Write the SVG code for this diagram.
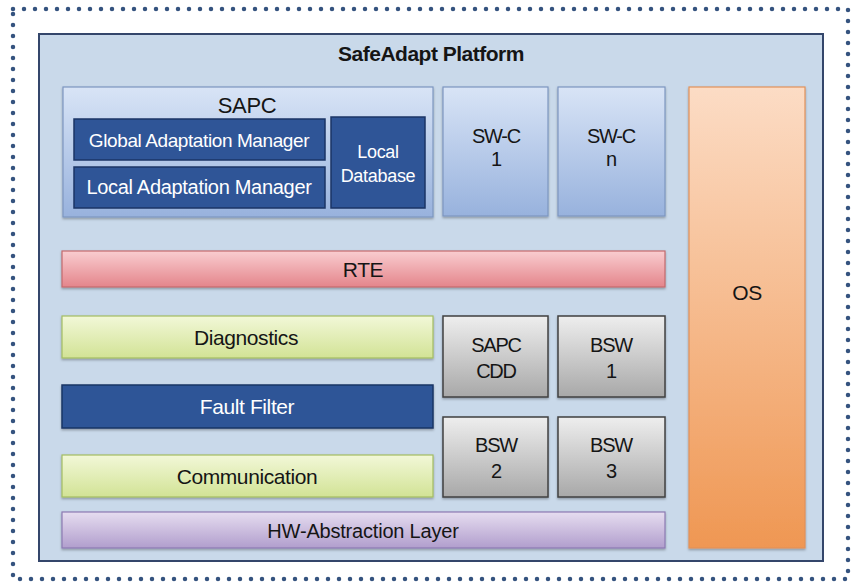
<svg xmlns="http://www.w3.org/2000/svg" width="852" height="583" viewBox="0 0 852 583">
<defs>
<linearGradient id="gBlue" x1="0" y1="0" x2="0" y2="1"><stop offset="0" stop-color="#d8e4f6"/><stop offset="1" stop-color="#98b2dd"/></linearGradient>
<linearGradient id="gRed" x1="0" y1="0" x2="0" y2="1"><stop offset="0" stop-color="#f9cdd0"/><stop offset="1" stop-color="#e4858b"/></linearGradient>
<linearGradient id="gGreen" x1="0" y1="0" x2="0" y2="1"><stop offset="0" stop-color="#f2f8d8"/><stop offset="1" stop-color="#d2e395"/></linearGradient>
<linearGradient id="gGray" x1="0" y1="0" x2="0" y2="1"><stop offset="0" stop-color="#eeeeee"/><stop offset="1" stop-color="#a8a8a8"/></linearGradient>
<linearGradient id="gPurple" x1="0" y1="0" x2="0" y2="1"><stop offset="0" stop-color="#e6ddf0"/><stop offset="1" stop-color="#b19ecd"/></linearGradient>
<linearGradient id="gOrange" x1="0" y1="0" x2="0" y2="1"><stop offset="0" stop-color="#fcdcc5"/><stop offset="1" stop-color="#ef9753"/></linearGradient>
<filter id="sh" x="-5%" y="-5%" width="110%" height="120%"><feDropShadow dx="0" dy="1.5" stdDeviation="1.2" flood-color="#000" flood-opacity="0.3"/></filter>
</defs>
<style>
text{font-family:"Liberation Sans",Arial,sans-serif;text-anchor:middle;fill:#151515;letter-spacing:-0.4px}
.t{font-size:21px}
.sw{font-size:20px;letter-spacing:-1.2px}
.w{fill:#fff}
.box{filter:url(#sh)}
.lb{fill:url(#gBlue);stroke:#7d96c0;stroke-width:1.2}
.db{fill:#2f5597;stroke:#1b3566;stroke-width:1.5}
.rd{fill:url(#gRed);stroke:#c46a6d;stroke-width:1.2}
.gr{fill:url(#gGreen);stroke:#a3bd62;stroke-width:1.2}
.gy{fill:url(#gGray);stroke:#404040;stroke-width:1.5}
.pu{fill:url(#gPurple);stroke:#8c7ab2;stroke-width:1.2}
.or{fill:url(#gOrange);stroke:#e2925a;stroke-width:1.2}
</style>
<rect width="852" height="583" fill="#ffffff"/>
<rect x="13" y="9" width="835" height="570" fill="none" stroke="#35537f" stroke-width="4.5" stroke-linecap="round" stroke-dasharray="0 11"/>
<g id="platform">
<rect x="39" y="34" width="784" height="527" fill="#c9d9ea" stroke="#34466b" stroke-width="2"/>
<text x="431" y="61" style="font-size:21px;font-weight:bold;letter-spacing:-0.5px">SafeAdapt Platform</text>
</g>
<g id="sapc">
<rect class="box lb" x="63" y="87" width="370" height="130"/>
<text x="247" y="113" style="font-size:22px">SAPC</text>
</g>
<g id="gam">
<rect class="db" x="74" y="119" width="251" height="41"/>
<text class="w" x="199" y="147" style="font-size:19px">Global Adaptation Manager</text>
</g>
<g id="lam">
<rect class="db" x="74" y="167" width="251" height="41"/>
<text class="w" x="199" y="194" style="font-size:20px;letter-spacing:-0.3px">Local Adaptation Manager</text>
</g>
<g id="localdb">
<rect class="db" x="331" y="117" width="94" height="91"/>
<text class="w" x="378" y="158" style="font-size:18px;letter-spacing:-0.3px">Local</text>
<text class="w" x="378" y="182" style="font-size:18px;letter-spacing:-0.3px">Database</text>
</g>
<g id="swc1">
<rect class="box lb" x="443" y="87" width="105" height="129"/>
<text class="sw" x="496" y="143">SW-C</text>
<text class="sw" x="496" y="166">1</text>
</g>
<g id="swcn">
<rect class="box lb" x="558" y="87" width="107" height="129"/>
<text class="sw" x="611" y="143">SW-C</text>
<text class="sw" x="611" y="166">n</text>
</g>
<g id="os">
<rect class="box or" x="689" y="87" width="116" height="461"/>
<text class="t" x="747" y="300">OS</text>
</g>
<g id="rte">
<rect class="box rd" x="62" y="251" width="603" height="36"/>
<text class="t" x="363" y="277">RTE</text>
</g>
<g id="diagnostics">
<rect class="box gr" x="62" y="316" width="371" height="42"/>
<text class="t" x="246" y="345">Diagnostics</text>
</g>
<g id="faultfilter">
<rect class="box db" x="62" y="385" width="371" height="43"/>
<text class="t w" x="247" y="414">Fault Filter</text>
</g>
<g id="communication">
<rect class="box gr" x="62" y="455" width="371" height="42"/>
<text class="t" x="247" y="484">Communication</text>
</g>
<g id="sapccdd">
<rect class="box gy" x="443" y="316" width="105" height="81"/>
<text class="sw" x="496" y="352">SAPC</text>
<text class="sw" x="496" y="378">CDD</text>
</g>
<g id="bsw1">
<rect class="box gy" x="558" y="316" width="107" height="81"/>
<text class="sw" x="611" y="352">BSW</text>
<text class="sw" x="611" y="378">1</text>
</g>
<g id="bsw2">
<rect class="box gy" x="443" y="417" width="105" height="80"/>
<text class="sw" x="496" y="452">BSW</text>
<text class="sw" x="496" y="478">2</text>
</g>
<g id="bsw3">
<rect class="box gy" x="558" y="417" width="107" height="80"/>
<text class="sw" x="611" y="452">BSW</text>
<text class="sw" x="611" y="478">3</text>
</g>
<g id="hwal">
<rect class="box pu" x="62" y="512" width="603" height="36"/>
<text x="363" y="538" style="font-size:20px;letter-spacing:-0.2px">HW-Abstraction Layer</text>
</g>
<g id="connectors"></g>
</svg>
